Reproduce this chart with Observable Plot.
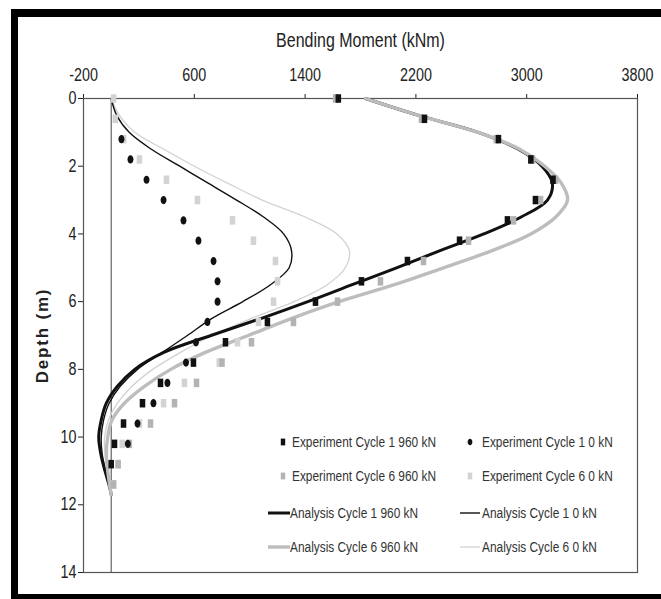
<!DOCTYPE html>
<html>
<head>
<meta charset="utf-8">
<script src="https://cdn.jsdelivr.net/npm/d3@7"></script>
<script src="https://cdn.jsdelivr.net/npm/@observablehq/plot@0.6"></script>
<style>
  html, body { margin: 0; padding: 0; background: #fff; overflow: hidden; }
  #fig { position: relative; width: 661px; height: 599px; }
  #border { position: absolute; left: 11px; top: 9px; width: 660px; height: 592px; box-sizing: border-box;
            border: 7px solid #000; border-top-width: 8px; border-right-width: 0; pointer-events: none; }
  #fig svg { position: absolute; left: 0; top: 0; }
</style>
</head>
<body>
<div id="fig"><div id="border"></div></div>
<script>
// Axis ticks
const xTicks = [-200, 600, 1400, 2200, 3000, 3800];
const yTicks = [0, 2, 4, 6, 8, 10, 12, 14];

// Gauge depths (m) of the measured bending moments
const expDepth = [0, 0.6, 1.2, 1.8, 2.4, 3.0, 3.6, 4.2, 4.8, 5.4, 6.0, 6.6, 7.2, 7.8, 8.4, 9.0, 9.6, 10.2, 10.8, 11.4];

// Measured bending moment (kNm)
const expC1_960 = [1640, 2262, 2796, 3030, 3190, 3063, 2861, 2515, 2139, 1807, 1475, 1128, 825, 594, 356, 226, 89, 24, 0, null];
const expC1_0   = [null, null, 74, 139, 255, 378, 522, 630, 739, 768, 768, 695, 612, 540, 406, 305, 190, 120, null, null];
const expC6_960 = [1620, 2240, 2780, 3042, 3208, 3100, 2905, 2580, 2255, 1944, 1634, 1316, 1013, 800, 616, 457, 284, 130, 50, 17];
const expC6_0   = [17, 30, 90, 204, 399, 623, 876, 1027, 1186, 1201, 1172, 1063, 912, 780, 529, 378, 204, 80, 50, 17];

// Depths (m) of the computed profiles
const anaDepth = [0, 0.5, 1, 1.5, 2, 2.5, 3, 3.5, 4, 4.5, 5, 5.5, 6, 6.5, 7, 7.5, 8, 8.5, 9, 9.5, 10, 10.5, 11, 11.5, 11.7];

// Computed bending moment (kNm)
const anaC1_960 = [1836, 2220, 2650, 2940, 3110, 3185, 3150, 2960, 2690, 2370, 2060, 1740, 1420, 1080, 720, 380, 170, 45, -35, -72, -90, -75, -45, -10, 0];
const anaC1_0   = [0, 40, 130, 290, 495, 700, 905, 1100, 1245, 1302, 1285, 1150, 950, 725, 550, 370, 190, 65, -15, -55, -72, -65, -40, -8, 0];
const anaC6_960 = [1836, 2220, 2650, 2950, 3130, 3250, 3295, 3210, 3030, 2745, 2400, 2045, 1645, 1300, 990, 680, 430, 240, 95, 5, -25, -35, -25, -8, 0];
const anaC6_0   = [0, 60, 170, 380, 600, 840, 1090, 1400, 1630, 1720, 1690, 1560, 1320, 1010, 730, 500, 300, 150, 45, -20, -48, -45, -25, -5, 0];

// Series names
const expNames = ["Experiment Cycle 1 960 kN", "Experiment Cycle 1 0 kN", "Experiment Cycle 6 960 kN", "Experiment Cycle 6 0 kN"];
const anaNames = ["Analysis Cycle 1 960 kN", "Analysis Cycle 1 0 kN", "Analysis Cycle 6 960 kN", "Analysis Cycle 6 0 kN"];

const FONT = '"Liberation Sans", Arial, sans-serif';
const CONDENSE = 0.82; // narrow lettering

// Tall marker shapes, as printed
const tallSquare = {
  draw(ctx, size) {
    const s = Math.sqrt(size);
    const w = s * 0.78, h = s * 1.2;
    ctx.moveTo(-w / 2, -h / 2); ctx.lineTo(w / 2, -h / 2); ctx.lineTo(w / 2, h / 2); ctx.lineTo(-w / 2, h / 2); ctx.closePath();
  }
};
const tallCircle = {
  draw(ctx, size) {
    const s = Math.sqrt(size);
    const rx = s * 0.42, ry = s * 0.58, k = 0.5523;
    ctx.moveTo(0, -ry);
    ctx.bezierCurveTo(k * rx, -ry, rx, -k * ry, rx, 0);
    ctx.bezierCurveTo(rx, k * ry, k * rx, ry, 0, ry);
    ctx.bezierCurveTo(-k * rx, ry, -rx, k * ry, -rx, 0);
    ctx.bezierCurveTo(-rx, -k * ry, -k * rx, -ry, 0, -ry);
    ctx.closePath();
  }
};

// Drawing styles per series
const expStyle = [
  {values: expC1_960, fill: "#111", symbol: tallSquare},
  {values: expC1_0,   fill: "#111", symbol: tallCircle},
  {values: expC6_960, fill: "#b3b3b3", symbol: tallSquare},
  {values: expC6_0,   fill: "#d3d3d3", symbol: tallSquare}
];
const anaStyle = [
  {values: anaC1_960, stroke: "#111", width: 3},
  {values: anaC1_0,   stroke: "#111", width: 1.4},
  {values: anaC6_960, stroke: "#bdbdbd", width: 3.4},
  {values: anaC6_0,   stroke: "#d2d2d2", width: 1.3}
];

const expRows = (i) => expDepth.map((d, j) => ({depth: d, moment: expStyle[i].values[j]})).filter(r => r.moment != null);
const anaRows = (i) => anaDepth.map((d, j) => ({depth: d, moment: anaStyle[i].values[j]}));

// Lines in drawing order: light thin, dark thin, dark thick, light thick
const lineOrder = [3, 1, 0, 2];
const dotOrder = [3, 2, 1, 0];

const chart = Plot.plot({
  width: 661,
  height: 599,
  marginLeft: 83,
  marginRight: 24,
  marginTop: 98,
  marginBottom: 27,
  style: {fontFamily: FONT, fontSize: "17.5px", color: "#222", background: "transparent"},
  x: {domain: [-200, 3800], ticks: xTicks, axis: "top", tickSize: 5, tickPadding: 13, label: null, tickFormat: d => String(d)},
  y: {domain: [0, 14], reverse: true, ticks: yTicks, tickSize: 5, tickPadding: 2, label: null, tickFormat: d => String(d)},
  marks: [
    Plot.frame({stroke: "#555", strokeWidth: 1.2}),
    Plot.ruleX([0], {stroke: "#444", strokeWidth: 1}),
    ...lineOrder.map(i => Plot.line(anaRows(i), {
      x: "moment", y: "depth", stroke: anaStyle[i].stroke, strokeWidth: anaStyle[i].width, curve: "catmull-rom"
    })),
    ...dotOrder.map(i => Plot.dot(expRows(i), {
      x: "moment", y: "depth", fill: expStyle[i].fill, stroke: "none", symbol: expStyle[i].symbol, r: 4
    })),
    Plot.text(["Bending Moment (kNm)"], {frameAnchor: "top", dy: -65, fontSize: 19.5, fill: "#222"}),
    Plot.text(["Depth (m)"], {
      frameAnchor: "left", textAnchor: "middle", dx: -41, rotate: -90, fontSize: 17, fontWeight: "bold", fill: "#222",
      className: "ylabel"
    })
  ]
});
document.getElementById("fig").appendChild(chart);
chart.querySelectorAll(".ylabel text").forEach(t => t.style.letterSpacing = "1.8px");

// Legend inside the plot area, two columns
const legend = d3.select("#fig").append("svg")
  .attr("width", 661).attr("height", 599)
  .style("pointer-events", "none")
  .style("font-family", FONT);

const rowsY = [442, 476, 513, 547];
const colText = [292, 482];
const colMarker = [283, 470];
const colLine = [[268, 290], [460, 480]];

expNames.forEach((name, i) => {
  const r = Math.floor(i / 2), c = i % 2, st = expStyle[i];
  const p = d3.path();
  st.symbol.draw(p, Math.PI * 3.2 * 3.2);
  legend.append("path").attr("d", p.toString())
    .attr("transform", `translate(${colMarker[c]},${rowsY[r]})`).attr("fill", st.fill);
  legend.append("text").attr("x", colText[c]).attr("y", rowsY[r]).attr("dy", "0.35em")
    .attr("font-size", 14.5).attr("fill", "#333").text(name);
});
anaNames.forEach((name, i) => {
  const r = 2 + Math.floor(i / 2), c = i % 2, st = anaStyle[i];
  legend.append("line").attr("x1", colLine[c][0]).attr("x2", colLine[c][1])
    .attr("y1", rowsY[r]).attr("y2", rowsY[r])
    .attr("stroke", st.stroke).attr("stroke-width", st.width);
  legend.append("text").attr("x", c === 0 ? colLine[c][1] : colText[c]).attr("y", rowsY[r]).attr("dy", "0.35em")
    .attr("font-size", 14.5).attr("fill", "#333").text(name);
});

// Narrow the labels horizontally about their anchor point (in their own coordinates)
document.querySelectorAll("#fig svg text").forEach(el => {
  if (el.closest(".ylabel")) return;
  const box = el.getBBox();
  const anchor = getComputedStyle(el).textAnchor;
  const ax = anchor === "middle" ? box.x + box.width / 2 : anchor === "end" ? box.x + box.width : box.x;
  const base = el.getAttribute("transform") || "";
  el.setAttribute("transform",
    `${base} translate(${ax.toFixed(2)},0) scale(${CONDENSE},1) translate(${(-ax).toFixed(2)},0)`.trim());
});

// Keep the figure border on top
document.getElementById("fig").appendChild(document.getElementById("border"));
</script>
</body>
</html>
